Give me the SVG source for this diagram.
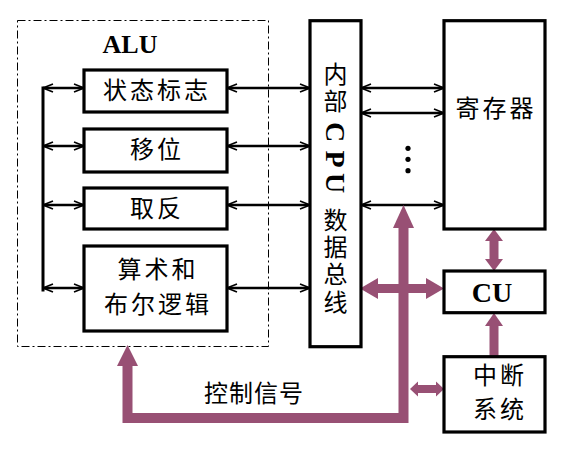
<svg xmlns="http://www.w3.org/2000/svg" width="578" height="450" viewBox="0 0 578 450">
<style>
.box{fill:#fff;stroke:#000;stroke-width:3.2}
.cjk{font-family:"Liberation Serif","Noto Sans CJK SC",serif;font-size:24px;fill:#000;text-anchor:middle}
.lat{font-family:"Liberation Serif",serif;font-weight:bold;font-size:26px;fill:#000;text-anchor:middle}
.big{font-size:28px}
.ln{stroke:#000;stroke-width:2.6;fill:none}
.dbl{marker-start:url(#ah);marker-end:url(#ah)}
.pl{fill:#985074}
</style>
<defs>
<marker id="ah" viewBox="0 0 12 10" refX="11" refY="5" markerWidth="12" markerHeight="10" markerUnits="userSpaceOnUse" orient="auto-start-reverse">
<path d="M1,1 L11,5 L1,9" fill="none" stroke="#000" stroke-width="1.6"/>
</marker>
</defs>

<g id="alu">
<rect x="17.5" y="20.5" width="251" height="326" fill="none" stroke="#000" stroke-width="1" stroke-dasharray="8,3,2,3"/>
<text class="lat" x="130" y="53">ALU</text>
</g>

<g id="connectors">
<line class="ln" x1="43" y1="86.5" x2="43" y2="291.5" style="stroke-width:3"/>
<line class="ln dbl" x1="43" y1="88" x2="84" y2="88"/>
<line class="ln dbl" x1="43" y1="146" x2="84" y2="146"/>
<line class="ln dbl" x1="43" y1="205" x2="84" y2="205"/>
<line class="ln dbl" x1="43" y1="288" x2="84" y2="288"/>
<line class="ln dbl" x1="227" y1="88" x2="310" y2="88"/>
<line class="ln dbl" x1="227" y1="146" x2="310" y2="146"/>
<line class="ln dbl" x1="227" y1="205" x2="310" y2="205"/>
<line class="ln dbl" x1="227" y1="288" x2="310" y2="288"/>
<line class="ln dbl" x1="361" y1="88" x2="444" y2="88"/>
<line class="ln dbl" x1="361" y1="113" x2="444" y2="113"/>
<line class="ln dbl" x1="361" y1="205" x2="444" y2="205"/>
<circle cx="408" cy="148.3" r="2.6"/>
<circle cx="408" cy="159.3" r="2.6"/>
<circle cx="408" cy="170.7" r="2.6"/>

<polyline points="403.5,226 403.5,418 127.5,418 127.5,364" fill="none" stroke="#985074" stroke-width="10"/>
<polygon class="pl" points="127.5,345 138,366 117,366"/>
<polygon class="pl" points="403.5,205 414,228 393,228"/>
<rect class="pl" x="376" y="284" width="52" height="9"/>
<polygon class="pl" points="360,288.5 378,278 378,299"/>
<polygon class="pl" points="444,288.5 426,278 426,299"/>
<rect class="pl" x="489.5" y="239" width="9" height="24"/>
<polygon class="pl" points="494,229 503,241 485,241"/>
<polygon class="pl" points="494,271 503,259 485,259"/>
<rect class="pl" x="489.5" y="323" width="9" height="34"/>
<polygon class="pl" points="494,313 503,326 485,326"/>
<rect class="pl" x="416" y="385" width="20" height="8"/>
<polygon class="pl" points="410,389 418,381.5 418,396.5"/>
<polygon class="pl" points="444,389 436,381.5 436,396.5"/>
</g>

<g id="status">
<rect class="box" x="84" y="70" width="143" height="42"/>
<text class="cjk" x="157" y="99" letter-spacing="3">状态标志</text>
</g>
<g id="shift">
<rect class="box" x="84" y="129" width="143" height="43"/>
<text class="cjk" x="157" y="158" letter-spacing="3">移位</text>
</g>
<g id="negate">
<rect class="box" x="84" y="188" width="143" height="41"/>
<text class="cjk" x="157" y="217" letter-spacing="3">取反</text>
</g>
<g id="arith">
<rect class="box" x="84" y="246" width="143" height="85"/>
<text class="cjk" x="158" y="278" letter-spacing="3">算术和</text>
<text class="cjk" x="158" y="313" letter-spacing="3">布尔逻辑</text>
</g>

<g id="bus">
<rect class="box" x="310" y="20.7" width="51" height="326"/>
<text class="cjk" x="335.5" y="83">内</text>
<text class="cjk" x="335.5" y="110">部</text>
<text class="lat big" transform="translate(335.5,132) rotate(90)" x="0" y="9.5">C</text>
<text class="lat big" transform="translate(335.5,159) rotate(90)" x="0" y="9.5">P</text>
<text class="lat big" transform="translate(335.5,183) rotate(90)" x="0" y="9.5">U</text>
<text class="cjk" x="335.5" y="229">数</text>
<text class="cjk" x="335.5" y="256">据</text>
<text class="cjk" x="335.5" y="283">总</text>
<text class="cjk" x="335.5" y="311">线</text>
</g>

<g id="registers">
<rect class="box" x="444" y="20.7" width="101" height="208.3"/>
<text class="cjk" x="496" y="117" letter-spacing="3">寄存器</text>
</g>
<g id="cu">
<rect class="box" x="444" y="271" width="101" height="41.7"/>
<text class="lat big" x="492" y="302">CU</text>
</g>
<g id="interrupt">
<rect class="box" x="444" y="356.7" width="101" height="75.3"/>
<text class="cjk" x="500" y="384" letter-spacing="3">中断</text>
<text class="cjk" x="500" y="418" letter-spacing="3">系统</text>
</g>
<g id="ctrl-label">
<text class="cjk" x="254" y="402" letter-spacing="1">控制信号</text>
</g>
</svg>
